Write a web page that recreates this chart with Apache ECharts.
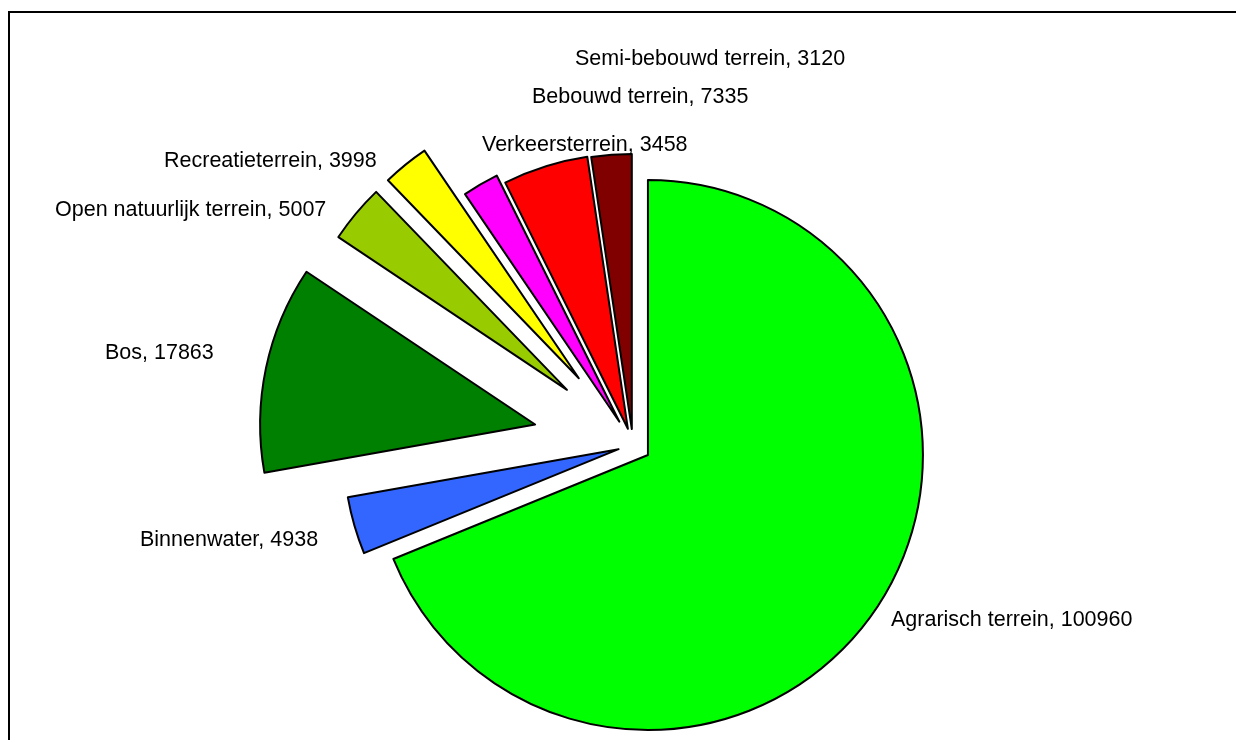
<!DOCTYPE html>
<html>
<head>
<meta charset="utf-8">
<script src="https://cdn.jsdelivr.net/npm/echarts@6/dist/echarts.min.js"></script>
<style>
  html, body { margin: 0; padding: 0; background: #ffffff; }
  #chart { width: 1236px; height: 740px; }
</style>
</head>
<body>
<div id="chart"></div>
<script>
// ---- data ----
const categories = ['Agrarisch terrein', 'Binnenwater', 'Bos', 'Open natuurlijk terrein', 'Recreatieterrein', 'Semi-bebouwd terrein', 'Bebouwd terrein', 'Verkeersterrein'];
const values = [100960, 4938, 17863, 5007, 3998, 3120, 7335, 3458];

// ---- style ----
const colors = ['#00FF00', '#3366FF', '#008000', '#99CC00', '#FFFF00', '#FF00FF', '#FF0000', '#800000'];
const explode = [18, 15, 100, 86, 86, 27, 17, 16];
const labelPos = [[891, 620], [140, 540], [105, 353], [55, 210], [164, 161], [575, 59], [532, 97], [482, 145]];
const pieCenter = [633, 445];
const pieRadius = 275;

const chart = echarts.init(document.getElementById('chart'), null, { renderer: 'canvas' });

const total = values.reduce(function (a, b) { return a + b; }, 0);
let cum = 0;
const series = categories.map(function (cat, i) {
  const mid = (cum + values[i] / 2) / total * Math.PI * 2; // clockwise from 12 o'clock
  cum += values[i];
  const cx = pieCenter[0] + explode[i] * Math.sin(mid);
  const cy = pieCenter[1] - explode[i] * Math.cos(mid);
  return {
    type: 'pie',
    center: [cx, cy],
    radius: pieRadius,
    startAngle: 90,
    clockwise: true,
    avoidLabelOverlap: false,
    animation: false,
    silent: true,
    emphasis: { disabled: true },
    label: { show: false },
    labelLine: { show: false },
    data: categories.map(function (c, j) {
      if (j === i) {
        return {
          name: c,
          value: values[j],
          itemStyle: { color: colors[j], borderColor: '#000000', borderWidth: 2 },
          label: {
            show: true,
            position: 'outside',
            formatter: '{b}, {c}',
            fontFamily: 'Liberation Sans, Arial, sans-serif',
            fontSize: 21.5,
            color: '#000000'
          }
        };
      }
      return {
        name: c,
        value: values[j],
        itemStyle: { color: 'rgba(0,0,0,0)', borderWidth: 0 },
        label: { show: false }
      };
    }),
    labelLayout: function (p) {
      return { x: labelPos[p.dataIndex][0], y: labelPos[p.dataIndex][1], align: 'left', verticalAlign: 'middle' };
    }
  };
});

chart.setOption({
  backgroundColor: '#ffffff',
  animation: false,
  graphic: [{
    type: 'rect',
    shape: { x: 9, y: 12, width: 2000, height: 2000 },
    style: { fill: 'none', stroke: '#000000', lineWidth: 2 },
    silent: true,
    z: 100
  }],
  series: series
});
</script>
</body>
</html>
